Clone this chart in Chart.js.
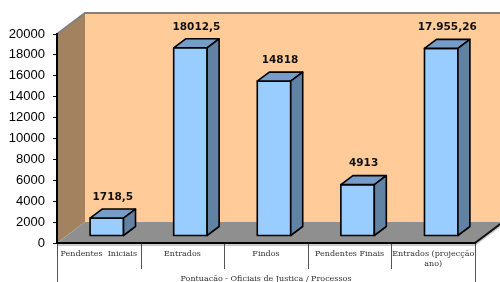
<!DOCTYPE html>
<html>
<head>
<meta charset="utf-8">
<script src="https://cdn.jsdelivr.net/npm/chart.js@4/dist/chart.umd.min.js"></script>
<style>
  html, body { margin: 0; padding: 0; background: #fff; }
  #wrap { width: 500px; height: 282px; position: relative; }
</style>
</head>
<body>
<div id="wrap"><canvas id="chart"></canvas></div>
<script>
// Pontuacão - Oficiais de Justica / Processos
const categories = [['Pendentes  Iniciais'], 'Entrados', 'Findos', 'Pendentes Finais', ['Entrados (projecção', 'ano)']];
const values = [1718.5, 18012.5, 14818, 4913, 17955.26];
const valueLabels = ['1718,5', '18012,5', '14818', '4913', '17.955,26'];
const yMin = 0;
const yMax = 20000;
const yStep = 2000;
const axisTitle = 'Pontuacão - Oficiais de Justica / Processos';

// 3D look: walls, floor and boxes drawn around the library's own bar elements
const depth3d = {
    id: 'depth3d',
    beforeDraw(chart) {
        const { ctx, chartArea: a, width, height } = chart;
        const dx = 28, dy = 21;
        const xs = chart.scales.x;
        ctx.save();

        // back wall
        ctx.fillStyle = '#FFCC99';
        ctx.fillRect(a.left + dx, a.top - dy, width, a.bottom - a.top);

        // left wall
        ctx.fillStyle = '#A3825F';
        ctx.beginPath();
        ctx.moveTo(a.left, a.top);
        ctx.lineTo(a.left + dx, a.top - dy);
        ctx.lineTo(a.left + dx, a.bottom - dy);
        ctx.lineTo(a.left, a.bottom);
        ctx.closePath();
        ctx.fill();

        // floor slab edge
        ctx.fillStyle = '#C8C8C8';
        ctx.beginPath();
        ctx.moveTo(a.left, a.bottom);
        ctx.lineTo(a.right, a.bottom);
        ctx.lineTo(a.right + dx, a.bottom - dy);
        ctx.lineTo(a.right + dx, a.bottom - dy + 3);
        ctx.lineTo(a.right, a.bottom + 3);
        ctx.lineTo(a.left, a.bottom + 3);
        ctx.closePath();
        ctx.fill();

        // floor
        ctx.fillStyle = '#8F8F8F';
        ctx.beginPath();
        ctx.moveTo(a.left, a.bottom);
        ctx.lineTo(a.left + dx, a.bottom - dy);
        ctx.lineTo(a.right + dx, a.bottom - dy);
        ctx.lineTo(a.right, a.bottom);
        ctx.closePath();
        ctx.fill();

        ctx.strokeStyle = '#111';
        ctx.lineWidth = 2;
        ctx.beginPath();
        ctx.moveTo(a.right, a.bottom);
        ctx.lineTo(a.right + dx, a.bottom - dy);
        ctx.stroke();

        // top edges of the walls
        ctx.strokeStyle = '#808080';
        ctx.lineWidth = 2;
        ctx.beginPath();
        ctx.moveTo(a.left, a.top);
        ctx.lineTo(a.left + dx, a.top - dy);
        ctx.lineTo(width, a.top - dy);
        ctx.stroke();

        // category separators under the floor
        const n = categories.length;
        const step = (a.right - a.left) / n;
        ctx.strokeStyle = '#555';
        ctx.lineWidth = 1;
        for (let i = 0; i <= n; i++) {
            const px = Math.round(i < n ? xs.getPixelForTick(i) - step / 2 : xs.getPixelForTick(n - 1) + step / 2) + 0.5;
            const end = (i === 0 || i === n) ? height : a.bottom + 26;
            ctx.beginPath();
            ctx.moveTo(px, a.bottom);
            ctx.lineTo(px, end);
            ctx.stroke();
        }
        ctx.restore();
    },
    afterDatasetsDraw(chart) {
        const { ctx } = chart;
        const meta = chart.getDatasetMeta(0);
        const bx = 8, by = 7;     // bar sits inside the floor depth
        const ox = 12, oy = 9;    // bar depth
        ctx.save();
        ctx.lineWidth = 1.6;
        ctx.strokeStyle = '#000';
        ctx.lineJoin = 'round';
        meta.data.forEach((bar, i) => {
            const { x, y, base, width } = bar.getProps(['x', 'y', 'base', 'width'], true);
            const l = x - width / 2 + bx, r = x + width / 2 + bx;
            const t = y - by, b = base - by;

            // front
            ctx.fillStyle = '#99CCFF';
            ctx.beginPath();
            ctx.rect(l, t, r - l, b - t);
            ctx.fill();
            ctx.stroke();

            // top
            ctx.fillStyle = '#769CC8';
            ctx.beginPath();
            ctx.moveTo(l, t);
            ctx.lineTo(l + ox, t - oy);
            ctx.lineTo(r + ox, t - oy);
            ctx.lineTo(r, t);
            ctx.closePath();
            ctx.fill();
            ctx.stroke();

            // side
            ctx.fillStyle = '#6282A3';
            ctx.beginPath();
            ctx.moveTo(r, t);
            ctx.lineTo(r + ox, t - oy);
            ctx.lineTo(r + ox, b - oy);
            ctx.lineTo(r, b);
            ctx.closePath();
            ctx.fill();
            ctx.stroke();

            // value label
            ctx.fillStyle = '#111';
            ctx.font = 'bold 10.5px "DejaVu Sans"';
            ctx.textAlign = 'center';
            ctx.textBaseline = 'middle';
            ctx.fillText(valueLabels[i], (l + r) / 2 + 6, t - oy - 12);
        });
        ctx.restore();
    }
};

new Chart(document.getElementById('chart'), {
    type: 'bar',
    data: {
        labels: categories,
        datasets: [{
            data: values,
            backgroundColor: 'rgba(0,0,0,0)',
            borderWidth: 0,
            barPercentage: 0.4,
            categoryPercentage: 1
        }]
    },
    options: {
        responsive: true,
        maintainAspectRatio: false,
        animation: false,
        layout: { padding: { top: 34, right: 25, left: 0, bottom: 0 } },
        plugins: { legend: { display: false }, tooltip: { enabled: false } },
        scales: {
            x: {
                grid: { display: false },
                border: { display: true, color: '#000', width: 2 },
                ticks: {
                    color: '#333',
                    font: { family: '"DejaVu Serif"', size: 8, lineHeight: 1.25 },
                    padding: -2,
                    maxRotation: 0,
                    minRotation: 0,
                    autoSkip: false
                },
                title: {
                    display: true,
                    text: axisTitle,
                    color: '#333',
                    font: { family: '"DejaVu Serif"', size: 8, lineHeight: 1.25 },
                    padding: { top: 0, bottom: -2 }
                },
                afterFit(scale) { scale.height = 39; }
            },
            y: {
                min: yMin,
                max: yMax,
                grid: { display: true, drawOnChartArea: false, drawTicks: true, tickLength: 4, color: '#000' },
                border: { display: true, color: '#000', width: 2 },
                ticks: {
                    stepSize: yStep,
                    color: '#000',
                    padding: 8,
                    font: { family: '"Liberation Sans"', size: 13 },
                    callback: (v) => String(v)
                },
                afterFit(scale) { scale.width = 57; }
            }
        }
    },
    plugins: [depth3d]
});
</script>
</body>
</html>
